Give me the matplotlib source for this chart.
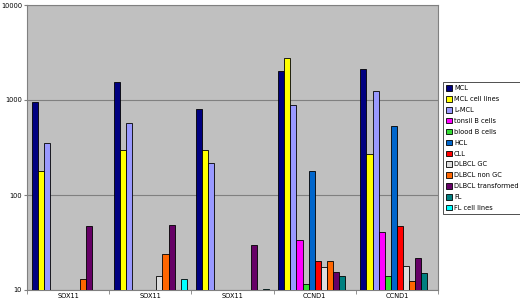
import numpy as np
import matplotlib.pyplot as plt

nan = np.nan

genes = ["SOX11", "SOX11", "SOX11", "CCND1", "CCND1"]
series = ["MCL", "MCL cell lines", "L-MCL", "tonsil B cells", "blood B cells",
          "HCL", "CLL", "DLBCL GC", "DLBCL non GC", "DLBCL transformed",
          "FL", "FL cell lines"]
colors = ["#000080", "#FFFF00", "#9999FF", "#FF00FF", "#33DD33", "#0066CC",
          "#FF0000", "#DDDDDD", "#FF6600", "#660066", "#008080", "#00FFFF"]

# one row per series, one column per probe
mcl         = [950, 1540, 800, 2040, 2120]
mcl_lines   = [178, 295, 297, 2780, 270]
l_mcl       = [355, 570, 215, 890, 1250]
tonsil_b    = [nan, nan, nan, 33.7, 40.8]
blood_b     = [nan, nan, nan, 11.5, 14.2]
hcl         = [nan, nan, nan, 181, 536]
cll         = [nan, nan, nan, 20, 46.8]
dlbcl_gc    = [nan, 14.2, nan, 17.4, 17.8]
dlbcl_ngc   = [13.2, 23.7, nan, 20, 12.4]
dlbcl_trans = [47.5, 48.7, 29.9, 15.5, 21.7]
fl          = [nan, nan, nan, 14, 15]
fl_lines    = [nan, 13.2, 10.3, nan, nan]

values = [mcl, mcl_lines, l_mcl, tonsil_b, blood_b, hcl, cll,
          dlbcl_gc, dlbcl_ngc, dlbcl_trans, fl, fl_lines]

fig = plt.figure(figsize=(5.2, 3.03), dpi=100)
ax = fig.add_axes([27 / 520, 13 / 303, 411 / 520, 285 / 303])
ax.set_facecolor("#C0C0C0")

w = 1 / 13.5
x = np.arange(len(genes))
base = 10
for i, (name, vals, c) in enumerate(zip(series, values, colors)):
    pos = x - 0.5 + 0.75 * w + (i + 0.5) * w
    h = np.array(vals, dtype=float) - base
    ax.bar(pos, h, width=w, bottom=base, color=c, edgecolor="black",
           linewidth=0.6, label=name, zorder=3)

ax.set_yscale("log")
ax.set_ylim(10, 10000)
ax.set_xlim(-0.5, len(genes) - 0.5)
ax.set_yticks([10, 100, 1000, 10000])
ax.set_yticklabels(["10", "100", "1000", "10000"])
ax.minorticks_off()
ax.yaxis.grid(True, color="#808080", linewidth=0.8, zorder=1)
ax.set_xticks(x)
ax.set_xticklabels(genes)
ax.set_xticks(np.arange(len(genes) + 1) - 0.5, minor=True)
ax.tick_params(axis="x", which="major", length=0, labelsize=4.8, pad=2)
ax.tick_params(axis="x", which="minor", length=3, color="#808080")
ax.tick_params(axis="y", labelsize=4.8, length=2.5, pad=1, color="#808080")
for s in ax.spines.values():
    s.set_color("#808080")

leg = fig.legend(loc="upper left", bbox_to_anchor=(443 / 520, 1 - 82 / 303),
                 fontsize=4.8, frameon=True, fancybox=False, handlelength=0.9,
                 handleheight=0.9, handletextpad=0.25, labelspacing=0.72,
                 borderpad=0.5, borderaxespad=0)
leg.get_frame().set_edgecolor("black")
leg.get_frame().set_linewidth(0.6)

fig.savefig("out.png", dpi=100)
